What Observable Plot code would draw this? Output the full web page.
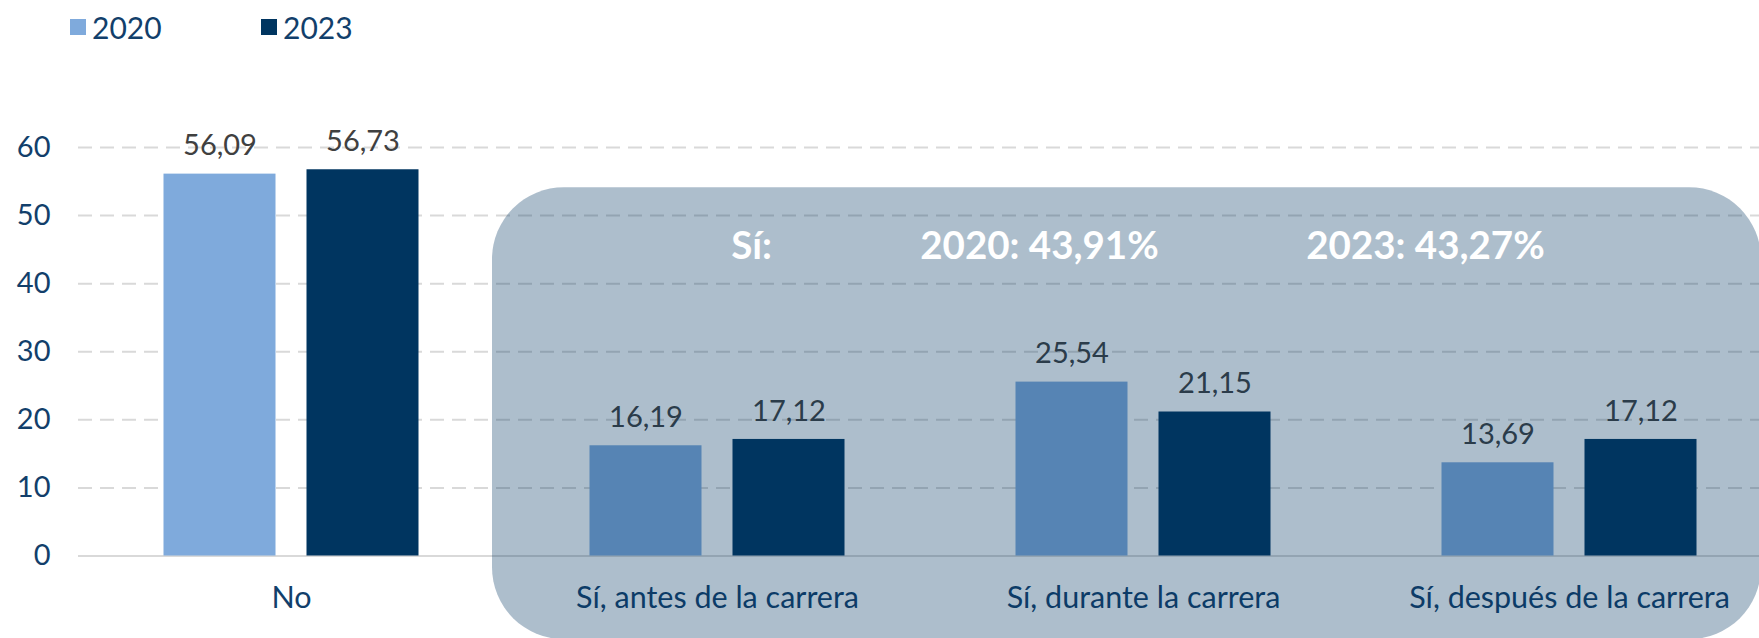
<!DOCTYPE html>
<html><head><meta charset="utf-8">
<script src="https://cdn.jsdelivr.net/npm/d3@7"></script>
<script src="https://cdn.jsdelivr.net/npm/@observablehq/plot@0.6"></script>
<style>
html,body{margin:0;padding:0;background:#fff;overflow:hidden;}
#legend{height:50px;position:relative;font-family:Lato, sans-serif;font-size:30px;color:#123f6b;}
.item{position:absolute;top:10px;display:flex;align-items:center;height:34px;}
.sw{width:16px;height:16px;margin-right:6px;}
</style></head><body>
<div id="legend"></div>
<div id="chart"></div>
<script>
const categories = ["No", "Sí, antes de la carrera", "Sí, durante la carrera", "Sí, después de la carrera"];
const years = ["2020", "2023"];
const values2020 = [56.09, 16.19, 25.54, 13.69];
const values2023 = [56.73, 17.12, 21.15, 17.12];
const yTicks = [0, 10, 20, 30, 40, 50, 60];
const summaryLabels = ["Sí:", "2020: 43,91%", "2023: 43,27%"];
const colors = ["#7faadc", "#003560"];

const legendPos = [70, 261];
const legend = document.getElementById("legend");
years.forEach((yr, i) => {
  const it = document.createElement("div");
  it.className = "item";
  it.style.left = legendPos[i] + "px";
  it.innerHTML = `<span class="sw" style="background:${colors[i]}"></span><span>${yr}</span>`;
  legend.appendChild(it);
});

const d2020 = categories.map((c, i) => ({cat: c, v: values2020[i]}));
const d2023 = categories.map((c, i) => ({cat: c, v: values2023[i]}));
const fmt = v => v.toFixed(2).replace(".", ",");
const FONT = "Lato, sans-serif";
const siCats = categories.slice(1);

const overlay = (index, scales) => {
  const x = scales.x, y = scales.y;
  const bw = x.bandwidth ? x.bandwidth() : 426;
  const x0 = x(siCats[0]) - 12, x1 = x(siCats[2]) + bw - 21;
  const y0 = y(54.1), y1 = y(-12.3);
  const r = d3.create("svg:rect")
    .attr("x", x0).attr("y", y0)
    .attr("width", x1 - x0).attr("height", y1 - y0)
    .attr("rx", 72).attr("ry", 72)
    .attr("fill", colors[1]).attr("fill-opacity", 0.32);
  return r.node();
};

const chart = Plot.plot({
  width: 1759,
  height: 588,
  marginLeft: 78,
  marginRight: 0,
  marginTop: 0,
  marginBottom: 0,
  style: {fontFamily: FONT, background: "transparent"},
  x: {domain: categories, range: [78, 1782], padding: 0, axis: null},
  y: {domain: [0, 60], range: [505.5, 97], axis: null},
  marks: [
    Plot.ruleY(yTicks.filter(d => d > 0), {stroke: "#d9d9d9", strokeWidth: 2, strokeDasharray: "14,8"}),
    Plot.ruleY([0], {stroke: "#d9d9d9", strokeWidth: 2}),
    Plot.barY(d2020, {x: "cat", y: "v", fill: colors[0], insetLeft: 85.5, insetRight: 228.5}),
    Plot.barY(d2023, {x: "cat", y: "v", fill: colors[1], insetLeft: 228.5, insetRight: 85.5}),
    Plot.text(d2020, {x: "cat", y: "v", text: d => fmt(d.v), dx: -71.5, dy: -28, fontSize: 29, fill: "#404040", lineAnchor: "middle"}),
    Plot.text(d2023, {x: "cat", y: "v", text: d => fmt(d.v), dx: 71.5, dy: -28, fontSize: 29, fill: "#404040", lineAnchor: "middle"}),
    Plot.text(yTicks, {y: d => d, text: d => String(d), frameAnchor: "left", textAnchor: "end", dx: -28, fontSize: 29, fill: "#123f6b", lineAnchor: "middle"}),
    Plot.text(categories, {x: d => d, y: () => 0, text: d => d, dy: 42, fontSize: 30.5, fill: "#123f6b", lineAnchor: "middle"}),
    overlay,
    Plot.text([summaryLabels[0]], {x: () => siCats[0], y: () => 45.5, text: d => d, dx: 34, fontSize: 38.5, fontWeight: "bold", fill: "white", lineAnchor: "middle"}),
    Plot.text([summaryLabels[1]], {x: () => siCats[1], y: () => 45.5, text: d => d, dx: -104, fontSize: 38.5, fontWeight: "bold", fill: "white", lineAnchor: "middle"}),
    Plot.text([summaryLabels[2]], {x: () => siCats[2], y: () => 45.5, text: d => d, dx: -144, fontSize: 38.5, fontWeight: "bold", fill: "white", lineAnchor: "middle"})
  ]
});
document.getElementById("chart").appendChild(chart);
</script>
</body></html>
